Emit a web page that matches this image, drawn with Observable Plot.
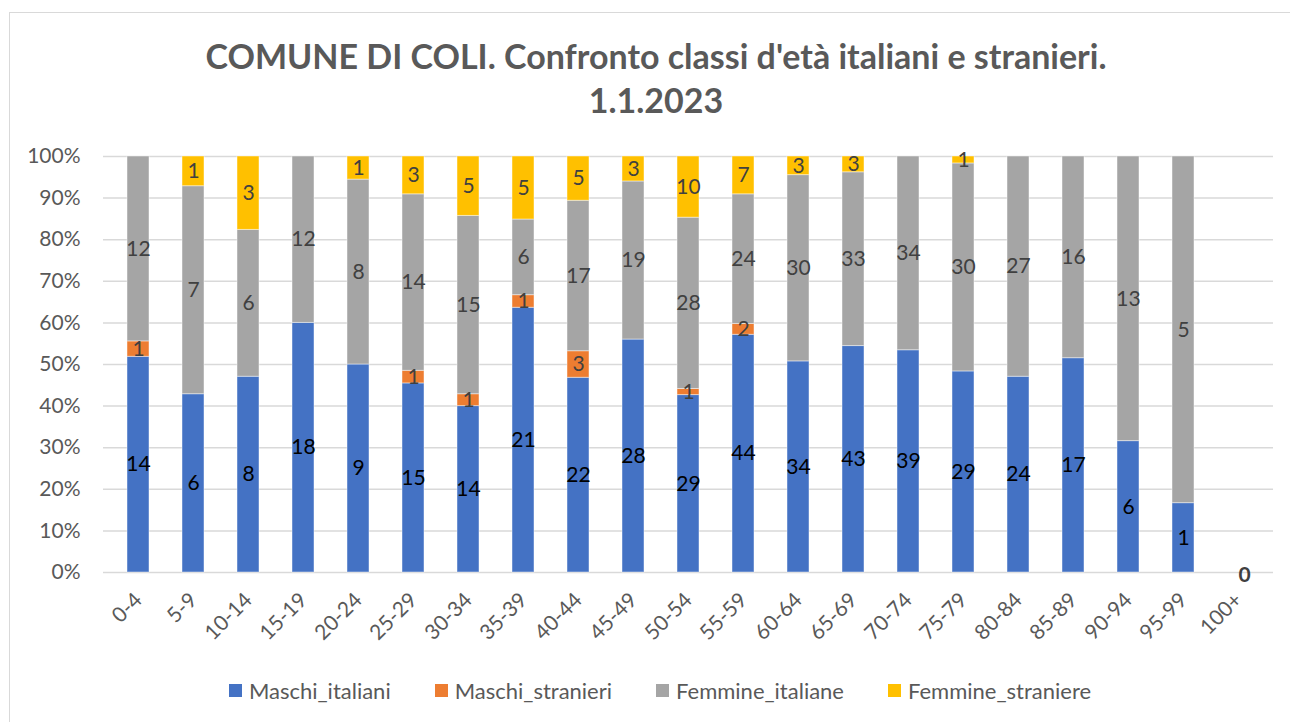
<!DOCTYPE html>
<html>
<head>
<meta charset="utf-8">
<script src="https://cdn.jsdelivr.net/npm/d3@7"></script>
<script src="https://cdn.jsdelivr.net/npm/@observablehq/plot@0.6"></script>
<style>
  html, body { margin: 0; padding: 0; background: #fff; }
  #page { position: relative; width: 1290px; height: 722px; overflow: hidden; font-family: Lato, "Noto Sans", sans-serif; }
  #frame { position: absolute; left: 9px; top: 12px; width: 1320px; height: 760px; border: 1.5px solid #d9d9d9; box-sizing: border-box; }
  #title { position: absolute; left: 0; top: 34px; width: 1312px; text-align: center; font-weight: bold; font-size: 34px; line-height: 44px; color: #595959; }
  #chart { position: absolute; left: 0; top: 130px; }
  #legend { position: absolute; left: 0; top: 677px; width: 1320px; display: flex; justify-content: center; gap: 44px; font-size: 22px; color: #595959; }
  .item { display: flex; align-items: center; gap: 7px; }
  .sw { width: 13px; height: 13px; display: inline-block; }
</style>
</head>
<body>
<div id="page">
  <div id="frame"></div>
  <div id="title">COMUNE DI COLI. Confronto classi d'età italiani e stranieri.<br>1.1.2023</div>
  <div id="chart"></div>
  <div id="legend"></div>
</div>
<script>
const categories = ["0-4","5-9","10-14","15-19","20-24","25-29","30-34","35-39","40-44","45-49","50-54","55-59","60-64","65-69","70-74","75-79","80-84","85-89","90-94","95-99","100+"];
const maschiItaliani   = [14, 6, 8, 18, 9, 15, 14, 21, 22, 28, 29, 44, 34, 43, 39, 29, 24, 17, 6, 1, 0];
const maschiStranieri  = [1, 0, 0, 0, 0, 1, 1, 1, 3, 0, 1, 2, 0, 0, 0, 0, 0, 0, 0, 0, 0];
const femmineItaliane  = [12, 7, 6, 12, 8, 14, 15, 6, 17, 19, 28, 24, 30, 33, 34, 30, 27, 16, 13, 5, 0];
const femmineStraniere = [0, 1, 3, 0, 1, 3, 5, 5, 5, 3, 10, 7, 3, 3, 0, 1, 0, 0, 0, 0, 0];
const seriesNames = ["Maschi_italiani","Maschi_stranieri","Femmine_italiane","Femmine_straniere"];
const seriesColors = ["#4472C4","#ED7D31","#A5A5A5","#FFC000"];
const yTicks = [0, 0.1, 0.2, 0.3, 0.4, 0.5, 0.6, 0.7, 0.8, 0.9, 1];

const seriesValues = [maschiItaliani, maschiStranieri, femmineItaliane, femmineStraniere];
const data = categories.flatMap((c, i) => seriesNames.map((s, j) => ({age: c, series: s, value: seriesValues[j][i]})));
const totals = categories.map((c, i) => ({age: c, total: seriesValues.reduce((a, arr) => a + arr[i], 0)}));

const stackOpts = {offset: "normalize", order: seriesNames};

const chart = Plot.plot({
  width: 1290,
  height: 530,
  marginLeft: 103,
  marginRight: 17,
  marginTop: 26,
  marginBottom: 88,
  style: {fontFamily: "Lato, 'Noto Sans', sans-serif", background: "transparent"},
  x: {domain: categories, paddingInner: 0.6, paddingOuter: 0.3, label: null},
  y: {domain: [0, 1], label: null},
  color: {domain: seriesNames, range: seriesColors},
  marks: [
    Plot.gridY(yTicks, {stroke: "#d9d9d9", strokeOpacity: 1, strokeWidth: 1.5}),
    Plot.barY(data, Plot.stackY(stackOpts, {x: "age", y: "value", z: "series", fill: "series", stroke: "#ffffff", strokeOpacity: 0.45, strokeWidth: 1})),
    Plot.text(data, Plot.stackY(stackOpts, {x: "age", y: "value", z: "series",
      text: d => d.series === "Maschi_italiani" && d.value > 0 ? String(d.value) : "",
      fill: "#000000", fontSize: 21})),
    Plot.text(data, Plot.stackY(stackOpts, {x: "age", y: "value", z: "series",
      text: d => d.series !== "Maschi_italiani" && d.value > 0 ? String(d.value) : "",
      fill: "#404040", fontSize: 21})),
    Plot.text(totals.filter(d => d.total === 0), {x: "age", y: 0, text: d => String(d.total), fill: "#404040", fontSize: 21, fontWeight: "bold", dx: 6, dy: 3}),
    Plot.axisY(yTicks, {tickSize: 0, tickPadding: 23, tickFormat: d => Math.round(d * 100) + "%", fontSize: 21, fill: "#595959", label: null}),
    Plot.axisX({tickSize: 0, tickPadding: 24, tickRotate: -45, fontSize: 21, fill: "#595959", label: null})
  ]
});
document.getElementById("chart").appendChild(chart);

const legend = document.getElementById("legend");
seriesNames.forEach((s, i) => {
  const item = document.createElement("div");
  item.className = "item";
  const sw = document.createElement("span");
  sw.className = "sw";
  sw.style.background = seriesColors[i];
  const label = document.createElement("span");
  label.textContent = s;
  item.appendChild(sw);
  item.appendChild(label);
  legend.appendChild(item);
});
</script>
</body>
</html>
